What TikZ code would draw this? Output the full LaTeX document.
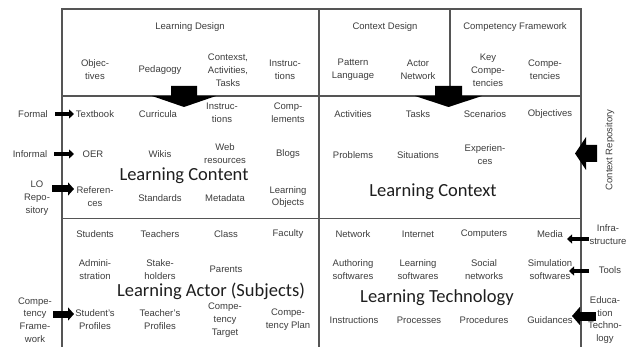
\documentclass[tikz,border=0pt]{standalone}
\usepackage{fontspec}
\setmainfont{Liberation Sans}
\newfontfamily\titlefont{Carlito}
\usetikzlibrary{arrows.meta}
\definecolor{txt}{RGB}{60,60,60}
\definecolor{frm}{RGB}{85,85,85}
\definecolor{ttl}{RGB}{30,30,30}
\begin{document}
\begin{tikzpicture}[x=1pt,y=-1pt,
  lbl/.style={font=\fontsize{9.5}{12.8}\selectfont, text=txt, align=center, inner sep=0pt},
  bigttl/.style={font=\titlefont\fontsize{18.5}{20}\selectfont, text=ttl, inner sep=0pt},
  frame/.style={draw=frm, line width=1.5pt},
  thinarrow/.style={line width=4pt, -{Triangle[length=5pt,width=9pt]}},
  fatarrow/.style={line width=7pt, -{Triangle[length=6pt,width=13pt]}},
  heavyarrow/.style={line width=9pt, -{Triangle[length=8pt,width=18pt]}},
  blockarrow/.style={fill=black}
  ]
\useasboundingbox (0,0) rectangle (634,347);

% outer frame and grid
\draw[frame] (62,9) rectangle (581,352);
\draw[frame] (319,9) -- (319,352);
\draw[frame] (450,9) -- (450,96);
\draw[frame] (62,96) -- (581,96);
\draw[frame] (62,218.5) -- (581,218.5);

% top row: design layers
\node[lbl] (ld) at (190,27) {Learning Design};
\node[lbl] (cd) at (385,27) {Context Design};
\node[lbl] (cf) at (515,27) {Competency Framework};
\node[lbl] (obj) at (95,70) {Objec-\\tives};
\node[lbl] (ped) at (160,70) {Pedagogy};
\node[lbl] (cat) at (228,70) {Contexst,\\Activities,\\Tasks};
\node[lbl] (ins1) at (285,70) {Instruc-\\tions};
\node[lbl] (pat) at (353,70) {Pattern\\Language};
\node[lbl] (actn) at (418,70) {Actor\\Network};
\node[lbl] (keyc) at (488,70) {Key\\Compe-\\tencies};
\node[lbl] (comp) at (545,70) {Compe-\\tencies};

% learning content
\node[lbl] (tb) at (95,114) {Textbook};
\node[lbl] (cur) at (158,114) {Curricula};
\node[lbl] (ins2) at (222,113) {Instruc-\\tions};
\node[lbl] (cmp) at (288,113) {Comp-\\lements};
\node[lbl] (oer) at (93,154) {OER};
\node[lbl] (wik) at (160,154) {Wikis};
\node[lbl] (web) at (225,154) {Web\\resources};
\node[lbl] (blg) at (288,154) {Blogs};
\node[lbl] (ref) at (95,197) {Referen-\\ces};
\node[lbl] (std) at (160,198) {Standards};
\node[lbl] (met) at (225,198) {Metadata};
\node[lbl] (lob) at (288,197) {Learning\\Objects};
\node[bigttl] (lc) at (184,176) {Learning Content};

% learning context
\node[lbl] (activ) at (353,114) {Activities};
\node[lbl] (tasks) at (418,114) {Tasks};
\node[lbl] (scen) at (485,114) {Scenarios};
\node[lbl] (objv) at (550,114) {Objectives};
\node[lbl] (prob) at (353,155) {Problems};
\node[lbl] (sit) at (418,155) {Situations};
\node[lbl] (expc) at (485,155) {Experien-\\ces};
\node[bigttl] (lctx) at (433,192) {Learning Context};

% learning actor
\node[lbl] (stu) at (95,234) {Students};
\node[lbl] (tea) at (160,234) {Teachers};
\node[lbl] (cls) at (226,234) {Class};
\node[lbl] (fac) at (288,234) {Faculty};
\node[lbl] (adm) at (95,270) {Admini-\\stration};
\node[lbl] (stk) at (160,270) {Stake-\\holders};
\node[lbl] (par) at (226,269) {Parents};
\node[lbl] (sp) at (95,320) {Student's\\Profiles};
\node[lbl] (tp) at (160,320) {Teacher's\\Profiles};
\node[lbl] (ctg) at (225,320) {Compe-\\tency\\Target};
\node[lbl] (cpl) at (288,320) {Compe-\\tency Plan};
\node[bigttl] (la) at (211,291) {Learning Actor (Subjects)};

% learning technology
\node[lbl] (net) at (353,234) {Network};
\node[lbl] (int) at (418,234) {Internet};
\node[lbl] (cmpt) at (484,234) {Computers};
\node[lbl] (med) at (550,234) {Media};
\node[lbl] (auth) at (353,270) {Authoring\\softwares};
\node[lbl] (lsw) at (418,270) {Learning\\softwares};
\node[lbl] (soc) at (484,270) {Social\\networks};
\node[lbl] (sim) at (550,270) {Simulation\\softwares};
\node[lbl] (insr) at (354,320) {Instructions};
\node[lbl] (proc) at (419,320) {Processes};
\node[lbl] (pced) at (484,320) {Procedures};
\node[lbl] (gui) at (550,320) {Guidances};
\node[bigttl] (lt) at (437,298) {Learning Technology};

% outside sources, left
\node[lbl] (formal) at (33,114) {Formal};
\node[lbl] (informal) at (30,154) {Informal};
\node[lbl] (lorep) at (37,198) {LO\\Repo-\\sitory};
\node[lbl] (cfw) at (35,320) {Compe-\\tency\\Frame-\\work};

% outside sources, right
\node[lbl, rotate=90] (crep) at (610,150) {Context Repository};
\node[lbl] (infra) at (608,235) {Infra-\\structure};
\node[lbl] (tools) at (610,270) {Tools};
\node[lbl] (edu) at (605,320) {Educa-\\tion\\Techno-\\logy};

% arrow end points
\coordinate (formalT) at (55,114);   \coordinate (formalH) at (74,114);
\coordinate (informalT) at (54,154); \coordinate (informalH) at (74,154);
\coordinate (lorepT) at (52,189);    \coordinate (lorepH) at (74,189);
\coordinate (cfwT) at (53,314);      \coordinate (cfwH) at (74,314);
\coordinate (infraT) at (589,239);   \coordinate (infraH) at (567,239);
\coordinate (toolsT) at (589,271);   \coordinate (toolsH) at (569,271);
\coordinate (eduT) at (596,316);     \coordinate (eduH) at (572,316);

\draw[thinarrow] (formalT) -- (formalH);
\draw[thinarrow] (informalT) -- (informalH);
\draw[fatarrow] (lorepT) -- (lorepH);
\draw[fatarrow] (cfwT) -- (cfwH);
\draw[thinarrow] (infraT) -- (infraH);
\draw[thinarrow] (toolsT) -- (toolsH);
\draw[heavyarrow] (eduT) -- (eduH);

% block arrows from the design layers down into content and context
\fill[blockarrow] (171,86) -- (197,86) -- (197,96) -- (216,96) -- (184,107)
  -- (152,96) -- (171,96) -- cycle;
\fill[blockarrow] (435,86) -- (462,86) -- (462,96) -- (482,96) -- (448.5,107)
  -- (415,96) -- (435,96) -- cycle;
% block arrow from the context repository
\fill[blockarrow] (575,153.5) -- (586,137) -- (586,145) -- (597,145) -- (597,162)
  -- (586,162) -- (586,170) -- cycle;
\end{tikzpicture}
\end{document}
